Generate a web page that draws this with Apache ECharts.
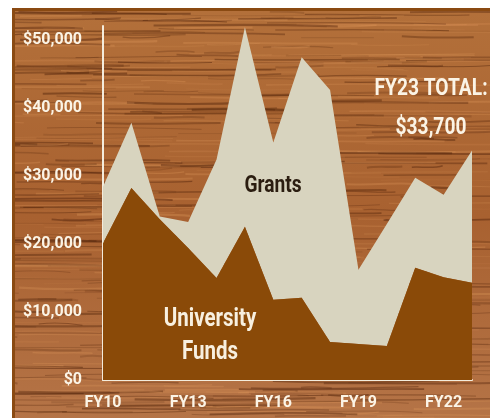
<!DOCTYPE html>
<html>
<head>
<meta charset="utf-8">
<script src="https://cdn.jsdelivr.net/npm/echarts@6/dist/echarts.min.js"></script>
<style>
html,body{margin:0;padding:0;background:#fff;}
#wrap{position:relative;width:490px;height:419px;overflow:hidden;}
#wood{position:absolute;left:12px;top:8px;width:478px;height:410px;box-sizing:border-box;border-top:3px solid #8a4a12;border-left:3px solid #8a4a12;background:#ab6531;}
#chart{position:absolute;left:0;top:0;width:490px;height:419px;}
</style>
</head>
<body>
<div id="wrap"><div id="wood"></div><div id="chart"></div></div>
<script>
const years = ['FY10','FY11','FY12','FY13','FY14','FY15','FY16','FY17','FY18','FY19','FY20','FY21','FY22','FY23'];
const universityFunds = [20100, 28200, 23600, 19400, 15000, 22500, 11800, 12100, 5600, 5300, 5000, 16500, 15100, 14300];
const grants = [8300, 9600, 400, 3800, 17400, 29300, 23100, 35300, 37000, 10900, 17900, 13200, 12100, 19400];
const shownXLabels = ['FY10','FY13','FY16','FY19','FY22'];

// wood-like background texture (decoration only)
(function(){
  const c = document.createElement('canvas'); c.width = 478; c.height = 410;
  const g = c.getContext('2d');
  const grd = g.createLinearGradient(0,0,0,410);
  grd.addColorStop(0,'#b3703a'); grd.addColorStop(0.5,'#a86130'); grd.addColorStop(1,'#b57447');
  g.fillStyle = grd; g.fillRect(0,0,478,410);
  let s = 12345; const rnd = () => (s = (s*1103515245+12345) % 2147483648) / 2147483648;
  for (let i=0;i<600;i++){
    const y = rnd()*410, x = rnd()*478 - 60, w = 30 + rnd()*160, h = 0.6 + rnd()*1.6;
    const dark = rnd() < 0.65;
    g.strokeStyle = dark ? 'rgba(85,38,12,' + (0.15+rnd()*0.35) + ')' : 'rgba(220,150,90,' + (0.12+rnd()*0.25) + ')';
    g.lineWidth = h;
    g.beginPath(); g.moveTo(x,y);
    g.bezierCurveTo(x+w*0.3, y+(rnd()-0.5)*4, x+w*0.7, y+(rnd()-0.5)*4, x+w, y+(rnd()-0.5)*3);
    g.stroke();
  }
  document.getElementById('wood').style.backgroundImage = 'url(' + c.toDataURL() + ')';
})();

const FONT = 'Roboto, "Noto Sans", sans-serif';
const chart = echarts.init(document.getElementById('chart'), null, {renderer:'canvas'});
chart.setOption({
  backgroundColor: 'transparent',
  animation: false,
  grid: {left: 103, right: 18, top: 26, bottom: 39},
  xAxis: {
    type: 'category', data: years, boundaryGap: false,
    axisLine: {show: true, lineStyle: {color: '#f4ecdc', width: 2}},
    axisTick: {show: false},
    axisLabel: {
      interval: 0, margin: 15, color: '#fbf4e6', fontFamily: FONT, fontWeight: 'bold', fontSize: 16,
      formatter: v => shownXLabels.includes(v) ? v : ''
    },
    splitLine: {show: false}
  },
  yAxis: {
    type: 'value', min: 0, max: 52000, interval: 10000,
    axisLine: {show: true, lineStyle: {color: '#f4ecdc', width: 2}},
    axisTick: {show: false},
    splitLine: {show: false},
    axisLabel: {
      showMaxLabel: false, margin: 21, color: '#fbf4e6', fontFamily: FONT, fontWeight: 'bold', fontSize: 16,
      formatter: v => v % 10000 === 0 ? '$' + v.toLocaleString('en-US') : ''
    }
  },
  series: [
    {name: 'University Funds', type: 'line', stack: 'total', data: universityFunds, symbol: 'none',
     lineStyle: {width: 0}, areaStyle: {color: '#8a4a08', opacity: 1}, z: 3},
    {name: 'Grants', type: 'line', stack: 'total', data: grants, symbol: 'none',
     lineStyle: {width: 0}, areaStyle: {color: '#d8d4bf', opacity: 1}, z: 2}
  ],
  graphic: [
    {type: 'text', x: 273, y: 186, scaleX: 0.8, style: {text: 'Grants', fill: '#2b1d10', font: 'bold 24px ' + FONT, align: 'center', verticalAlign: 'middle'}, z: 10},
    {type: 'text', x: 210, y: 336, scaleX: 0.82, style: {text: 'University\nFunds', fill: '#f8f0e0', font: 'bold 25px ' + FONT, align: 'center', verticalAlign: 'middle', lineHeight: 33}, z: 10},
    {type: 'text', x: 431, y: 108, scaleX: 0.8, style: {text: 'FY23 TOTAL:\n$33,700', fill: '#fbf4e6', font: 'bold 24px ' + FONT, align: 'center', verticalAlign: 'middle', lineHeight: 39}, z: 10}
  ]
});
</script>
</body>
</html>
